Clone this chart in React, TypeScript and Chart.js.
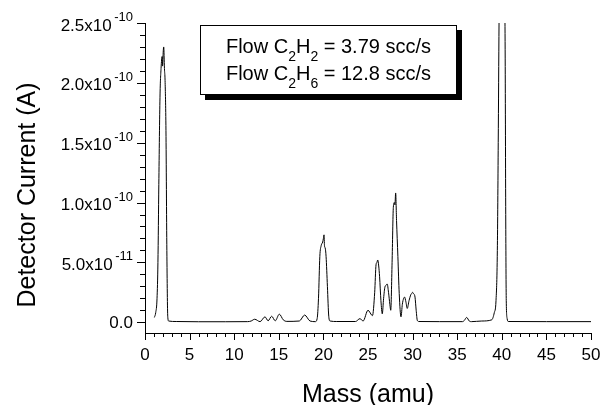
import React, { useEffect, useRef } from 'react';
import { Chart, registerables } from 'chart.js';

Chart.register(...registerables);

// Mass (amu) sample positions of the scan
const massAmu = [
  1.05, 1.2, 1.35, 1.45, 1.55, 1.68, 1.8, 1.92, 1.97, 2.05, 2.1, 2.18, 2.25, 2.35, 2.45, 2.55, 2.65,
  3.5, 6, 9, 11.5, 11.9, 12.3, 12.9, 13.45, 13.8, 14.2, 14.6, 15.06, 15.5, 15.9, 17.3, 17.9, 18.5, 19.1,
  19.3, 19.45, 19.6, 19.75, 19.92, 20.0, 20.07, 20.12, 20.2, 20.3, 20.45, 20.6, 20.75,
  21.5, 23.6, 24.1, 24.45, 25.0, 25.5,
  25.75, 25.9, 26.0, 26.09, 26.2, 26.3, 26.45, 26.6,
  26.75, 26.9, 27.05, 27.15, 27.3, 27.45, 27.55,
  27.7, 27.84, 27.95, 28.02, 28.1, 28.2, 28.35, 28.5, 28.7,
  28.85, 29.0, 29.1, 29.25, 29.4,
  29.6, 29.8, 29.9, 30.0, 30.1, 30.27, 30.4, 30.53, 30.7,
  33.0, 35.6, 35.8, 36.06, 36.35, 36.6, 37.75, 38.87,
  39.16, 39.35, 39.5, 39.6, 39.69, 39.85, 40.0, 40.15, 40.3, 40.38, 40.44, 40.5, 40.6, 40.73,
  45, 50,
];

// Detector current, in units of 1e-10 A
const currentE10A = [
  0.04, 0.08, 0.2, 0.5, 1.15, 1.88, 2.12, 2.22, 2.14, 2.27, 2.3, 2.12, 2.02, 1.6, 0.6, 0.05, 0.01,
  0.006, 0.004, 0.004, 0.005, 0.01, 0.025, 0.005, 0.045, 0.012, 0.05, 0.012, 0.067, 0.02, 0.007, 0.01, 0.06, 0.01, 0.005,
  0.03, 0.2, 0.55, 0.64, 0.67, 0.7, 0.73, 0.64, 0.62, 0.55, 0.3, 0.05, 0.01,
  0.006, 0.006, 0.03, 0.01, 0.1, 0.055,
  0.25, 0.48, 0.5, 0.52, 0.47, 0.38, 0.18, 0.07,
  0.2, 0.295, 0.31, 0.32, 0.25, 0.15, 0.1,
  0.5, 0.96, 1.0, 0.98, 1.08, 0.85, 0.55, 0.24, 0.045,
  0.15, 0.2, 0.21, 0.17, 0.115,
  0.18, 0.23, 0.24, 0.25, 0.24, 0.21, 0.1, 0.015, 0.006,
  0.005, 0.005, 0.015, 0.04, 0.01, 0.005, 0.01, 0.02,
  0.08, 0.18, 0.6, 1.5, 2.5, 3.8, 4.3, 4.0, 3.0, 2.2, 0.9, 0.18, 0.03, 0.006,
  0.005, 0.005,
];

const xTickValues = [0, 5, 10, 15, 20, 25, 30, 35, 40, 45, 50];
const xTickLabels = ['0', '5', '10', '15', '20', '25', '30', '35', '40', '45', '50'];
const yTickValues = [0, 0.5, 1.0, 1.5, 2.0, 2.5];
const yTickBases = ['0.0', '5.0x10', '1.0x10', '1.5x10', '2.0x10', '2.5x10'];
const yTickExponents = ['', '-11', '-10', '-10', '-10', '-10'];

const xTitle = 'Mass (amu)';
const yTitle = 'Detector Current (A)';

// legend lines: [text, isSubscript]
const legendLine1: [string, boolean][] = [['Flow C', false], ['2', true], ['H', false], ['2', true], [' = 3.79 scc/s', false]];
const legendLine2: [string, boolean][] = [['Flow C', false], ['2', true], ['H', false], ['6', true], [' = 12.8 scc/s', false]];

const FONT = '"Liberation Sans", Arial, Helvetica, sans-serif';

const overlay = {
  id: 'overlay',
  afterDraw(chart: any) {
    const ctx = chart.ctx as CanvasRenderingContext2D;
    const xs = chart.scales.x;
    const ys = chart.scales.y;
    const area = chart.chartArea;
    ctx.save();
    ctx.strokeStyle = '#000';
    ctx.fillStyle = '#000';
    ctx.lineWidth = 1;

    // y tick marks (minor every 0.1e-10)
    for (let i = 0; i <= 25; i++) {
      const py = Math.round(ys.getPixelForValue(i / 10)) + 0.5;
      const len = i % 5 === 0 ? 8 : 5;
      ctx.beginPath();
      ctx.moveTo(area.left - len, py);
      ctx.lineTo(area.left, py);
      ctx.stroke();
    }
    // x tick marks (minor every 1 amu)
    for (let i = 0; i <= 50; i++) {
      const px = Math.round(xs.getPixelForValue(i)) + 0.5;
      const len = i % 5 === 0 ? 7 : 4;
      ctx.beginPath();
      ctx.moveTo(px, area.bottom);
      ctx.lineTo(px, area.bottom + len);
      ctx.stroke();
    }

    // y tick labels with superscripts
    const rightEdge = area.left - 12;
    yTickValues.forEach((v, i) => {
      const py = ys.getPixelForValue(v);
      const base = yTickBases[i];
      const exp = yTickExponents[i];
      ctx.textAlign = 'left';
      ctx.textBaseline = 'alphabetic';
      if (exp) {
        ctx.font = `13px ${FONT}`;
        const ew = ctx.measureText(exp).width;
        ctx.font = `17px ${FONT}`;
        const bw = ctx.measureText(base).width;
        const bx = rightEdge - ew - 2.5 - bw;
        ctx.fillText(base, bx, py + 7.5);
        ctx.font = `13px ${FONT}`;
        ctx.fillText(exp, rightEdge - ew, py - 2);
      } else {
        ctx.font = `17px ${FONT}`;
        const bw = ctx.measureText(base).width;
        ctx.fillText(base, rightEdge - bw, py + 6);
      }
    });

    // x tick labels
    ctx.font = `17px ${FONT}`;
    ctx.textAlign = 'center';
    ctx.textBaseline = 'alphabetic';
    xTickValues.forEach((v, i) => {
      ctx.fillText(xTickLabels[i], xs.getPixelForValue(v), area.bottom + 26.5);
    });

    // axis titles
    ctx.font = `25px ${FONT}`;
    ctx.textAlign = 'center';
    ctx.fillText(xTitle, (area.left + area.right) / 2, 401.5);
    ctx.save();
    ctx.translate(35, 195);
    ctx.rotate(-Math.PI / 2);
    ctx.fillText(yTitle, 0, 0);
    ctx.restore();

    // legend box with shadow
    const bx = 200, by = 25, bw = 257, bh = 70, sh = 5;
    ctx.fillStyle = '#000';
    ctx.fillRect(bx + sh, by + sh, bw, bh);
    ctx.fillStyle = '#fff';
    ctx.fillRect(bx, by, bw, bh);
    ctx.strokeStyle = '#000';
    ctx.strokeRect(bx + 0.5, by + 0.5, bw - 1, bh - 1);

    ctx.fillStyle = '#000';
    ctx.textAlign = 'left';
    const drawLine = (parts: [string, boolean][], baseline: number) => {
      let total = 0;
      parts.forEach(([t, sub]) => {
        ctx.font = sub ? `14px ${FONT}` : `20px ${FONT}`;
        total += ctx.measureText(t).width;
      });
      let x = bx + bw / 2 - total / 2;
      parts.forEach(([t, sub]) => {
        ctx.font = sub ? `14px ${FONT}` : `20px ${FONT}`;
        ctx.fillText(t, x, sub ? baseline + 7.5 : baseline);
        x += ctx.measureText(t).width;
      });
    };
    drawLine(legendLine1, 53.3);
    drawLine(legendLine2, 80.3);

    ctx.restore();
  },
};

export default function App() {
  const ref = useRef<HTMLCanvasElement | null>(null);
  useEffect(() => {
    if (!ref.current) return;
    const data = massAmu.map((m, i) => ({ x: m, y: currentE10A[i] }));
    const chart = new Chart(ref.current, {
      type: 'line',
      data: {
        datasets: [
          {
            data,
            borderColor: '#000',
            borderWidth: 1,
            pointRadius: 0,
            fill: false,
            cubicInterpolationMode: 'monotone',
          },
        ],
      },
      options: {
        responsive: false,
        animation: false,
        devicePixelRatio: 1,
        layout: { padding: { top: 23, right: 11, left: 0, bottom: 0 } },
        plugins: { legend: { display: false }, tooltip: { enabled: false }, title: { display: false } },
        scales: {
          x: {
            type: 'linear',
            min: 0,
            max: 50,
            ticks: { display: false, stepSize: 5 },
            grid: { display: false },
            border: { display: true, color: '#000', width: 1 },
            afterFit: (s: any) => {
              s.height = 72;
            },
          },
          y: {
            type: 'linear',
            min: -0.09,
            max: 2.5,
            ticks: { display: false, stepSize: 0.5 },
            grid: { display: false },
            border: { display: true, color: '#000', width: 1 },
            afterFit: (s: any) => {
              s.width = 145;
            },
          },
        },
      } as any,
      plugins: [overlay],
    });
    return () => chart.destroy();
  }, []);
  return (
    <div style={{ position: 'fixed', left: 0, top: 0, width: 602, height: 405, background: '#fff' }}>
      <canvas ref={ref} width={602} height={405} style={{ display: 'block' }} />
    </div>
  );
}
